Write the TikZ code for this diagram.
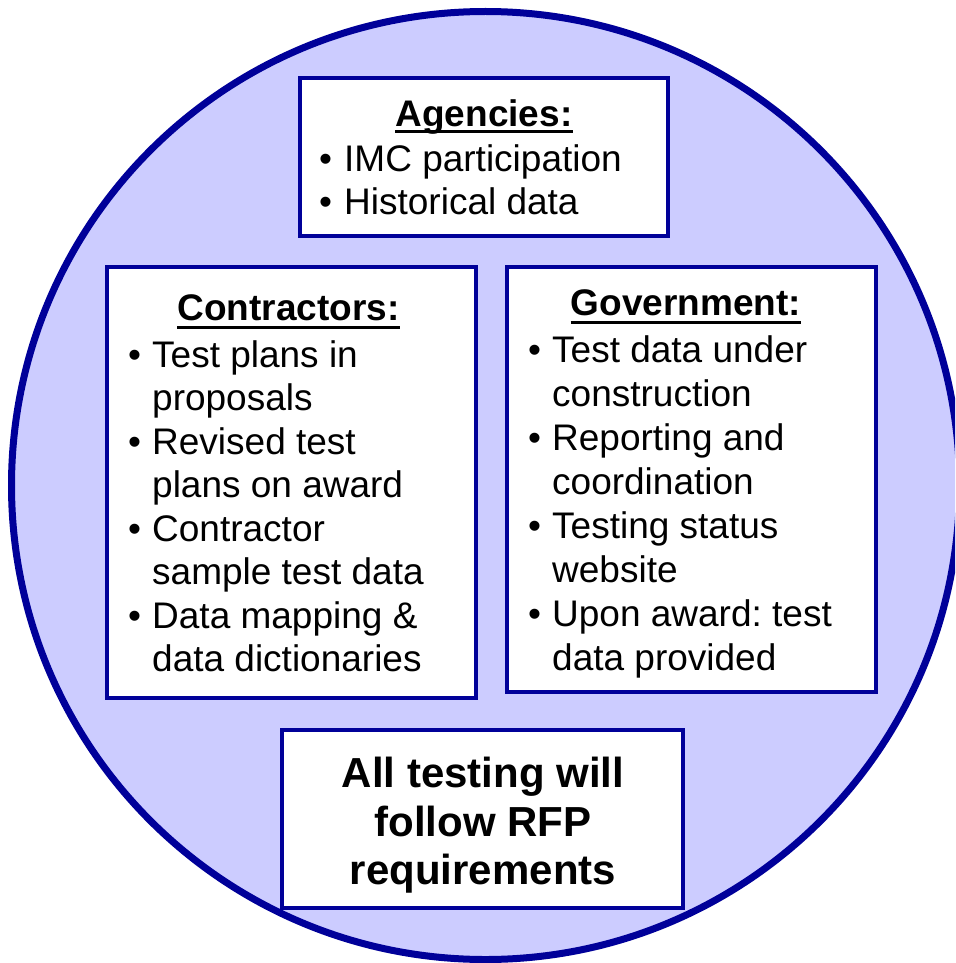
\documentclass[tikz,border=0pt]{standalone}
\usepackage{fontspec}
\setmainfont{Liberation Sans}
\definecolor{navy}{HTML}{000099}
\definecolor{lav}{HTML}{CCCCFF}
\frenchspacing
\begin{document}
\begin{tikzpicture}[x=1pt,y=-1pt,
 panel/.style={draw=navy, line width=3.5pt, fill=white, inner sep=0pt},
 body/.style={anchor=base west, inner sep=0pt, font=\fontsize{37}{44}\selectfont},
 head/.style={anchor=base, inner sep=0pt, font=\fontsize{37}{44}\selectfont\bfseries},
 concl/.style={anchor=base, inner sep=0pt, font=\fontsize{42}{48}\selectfont\bfseries},
 uline/.style={line width=3pt}]
\useasboundingbox (0,0) rectangle (955,963);
\fill[white] (0,0) rectangle (955,963);
\begin{scope}
\clip (0,0) rectangle (955,963);
\node[circle, draw=navy, fill=lav, line width=7pt, minimum size=948pt, inner sep=0pt] (disc) at (485.5,485.5) {};
\end{scope}
% panels
\node[panel, minimum width=368pt, minimum height=158pt] (agencies) at (484,157) {};
\node[panel, minimum width=369pt, minimum height=431pt] (contractors) at (291.5,482.5) {};
\node[panel, minimum width=369pt, minimum height=425pt] (government) at (691.5,479.5) {};
\node[panel, minimum width=401pt, minimum height=178pt] (rfp) at (482.5,819) {};
% Agencies
\node[head] (ha) at (484,127) {Agencies:};
\draw[uline] ([yshift=-4.5pt]ha.base west) -- ([yshift=-4.5pt]ha.base east);
\node[body] (a1b) at (319,171) {•};
\node[body] (a1) at (344,171) {IMC participation};
\node[body] (a2b) at (319,214) {•};
\node[body] (a2) at (344,214) {Historical data};
% Contractors
\node[head] (hc) at (288.5,320) {Contractors:};
\draw[uline] ([yshift=-7pt]hc.base west) -- ([yshift=-7pt]hc.base east);
\node[body] (c1b) at (128,367) {•};
\node[body] (c1) at (152,367) {Test plans in};
\node[body] (c1c) at (152,410.5) {proposals};
\node[body] (c2b) at (128,454) {•};
\node[body] (c2) at (152,454) {Revised test};
\node[body] (c2c) at (152,497.5) {plans on award};
\node[body] (c3b) at (128,541) {•};
\node[body] (c3) at (152,541) {Contractor};
\node[body] (c3c) at (152,584.5) {sample test data};
\node[body] (c4b) at (128,628) {•};
\node[body] (c4) at (152,628) {Data mapping \&};
\node[body] (c4c) at (152,671.5) {data dictionaries};
% Government
\node[head] (hg) at (686,315) {Government:};
\draw[uline] ([yshift=-7pt]hg.base west) -- ([yshift=-7pt]hg.base east);
\node[body] (g1b) at (528,362) {•};
\node[body] (g1) at (552,362) {Test data under};
\node[body] (g1c) at (552,406) {construction};
\node[body] (g2b) at (528,450) {•};
\node[body] (g2) at (552,450) {Reporting and};
\node[body] (g2c) at (552,494) {coordination};
\node[body] (g3b) at (528,538) {•};
\node[body] (g3) at (552,538) {Testing status};
\node[body] (g3c) at (552,582) {website};
\node[body] (g4b) at (528,626) {•};
\node[body] (g4) at (552,626) {Upon award: test};
\node[body] (g4c) at (552,670) {data provided};
% Conclusion
\node[concl] (r1) at (483,787) {All testing will};
\node[concl] (r2) at (483,836) {follow RFP};
\node[concl] (r3) at (483,884) {requirements};
\end{tikzpicture}
\end{document}
